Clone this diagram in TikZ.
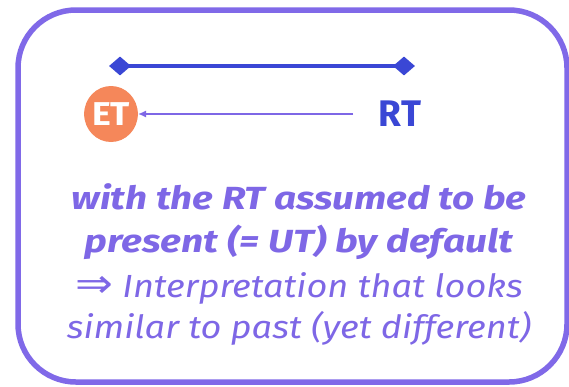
\documentclass[tikz,border=0pt]{standalone}
\usepackage{fontspec}
\setmainfont{Fira Sans}
\newfontfamily\symfont{DejaVu Sans}
\usetikzlibrary{arrows.meta,shapes.geometric}
\definecolor{boxpurple}{HTML}{8069E8}
\definecolor{txtpurple}{HTML}{7E67E6}
\definecolor{rtblue}{HTML}{3A47D5}
\definecolor{etorange}{HTML}{F5875A}
\tikzset{
  frame/.style={draw=boxpurple,line width=5.5pt,rounded corners=58pt},
  tick/.style={diamond,fill=rtblue,inner sep=0pt,minimum width=22pt,minimum height=19pt},
  etnode/.style={ellipse,fill=etorange,inner sep=0pt,minimum width=51pt,minimum height=56pt,text=white,font=\fontsize{33}{33}\selectfont\bfseries},
  rtnode/.style={text=rtblue,font=\fontsize{37}{37}\selectfont\bfseries,inner sep=0pt},
  boldline/.style={text=txtpurple,inner sep=0pt,font=\fontsize{32}{40}\selectfont\bfseries\itshape},
  plainline/.style={text=txtpurple,inner sep=0pt,font=\fontsize{32}{40}\selectfont\itshape},
  ptr/.style={draw=txtpurple,line width=1.3pt,-{Latex[length=8pt,width=7pt]}},
}
\begin{document}
\begin{tikzpicture}[x=1pt,y=-1pt]
\useasboundingbox (0,0) rectangle (569,386);
\fill[white] (0,0) rectangle (569,386);
\draw[frame] (18,10) rectangle (567,382);
\node[tick] (d1) at (120,66) {};
\node[tick] (d2) at (404,66) {};
\draw[rtblue,line width=4pt] (d1.center) -- (d2.center);
\node[etnode] (et) at (111,114) {\scalebox{1.08}[1]{ET}};
\node[rtnode] (rt) at (400,114) {RT};
\coordinate (a0) at (353,114);
\draw[ptr] (a0) -- (et.east);
\node[boldline,anchor=base] (l1) at (299,209) {\scalebox{1.21}[1]{with the RT assumed to be}};
\node[boldline,anchor=base] (l2) at (299,252) {\scalebox{1.22}[1]{present (= UT) by default}};
\node[plainline,anchor=base] (l3) at (299,297) {\scalebox{1.13}[1]{{\symfont\upshape\fontsize{40}{40}\selectfont ⇒} Interpretation that looks}};
\node[plainline,anchor=base] (l4) at (299,338) {\scalebox{1.13}[1]{similar to past (yet different)}};
\end{tikzpicture}
\end{document}
